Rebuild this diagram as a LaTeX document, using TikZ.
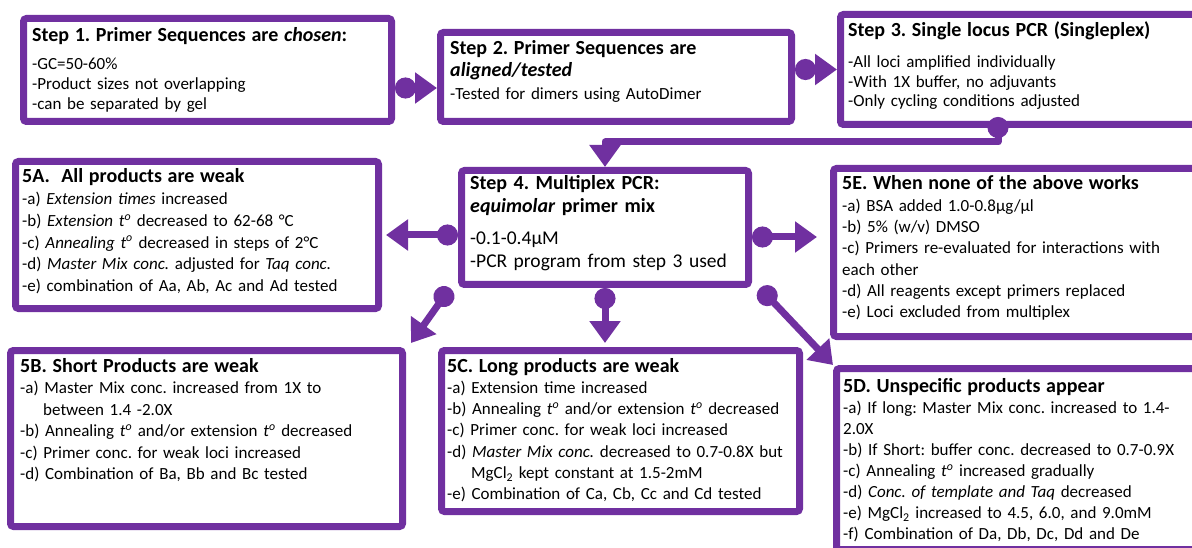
\documentclass[tikz,border=0pt]{standalone}
\usepackage{fontspec}
\setmainfont{Carlito}
\usetikzlibrary{arrows.meta, positioning, calc}

\definecolor{flowpurple}{HTML}{7030A0}
\newcommand{\ttl}[1]{{\fontsize{20}{22}\selectfont\bfseries #1}}
\newcommand{\tdeg}{\textit{t}\textsuperscript{\textit{o}}}
\frenchspacing

\begin{document}
\begin{tikzpicture}[
    x=1pt, y=-1pt,
    stepbox/.style={rectangle, draw=flowpurple, line width=7pt, outer sep=3.5pt, rounded corners=3pt, fill=white, anchor=north west, inner sep=0pt},
    boxtext/.style={anchor=base west, inner sep=0pt, align=left, text width=355pt, font=\fontsize{17}{21.5}\selectfont},
    conn/.style={{Circle[length=21pt]}-{Triangle[length=22pt,width=30pt]}, line width=7pt, draw=flowpurple, line join=round},
]
\useasboundingbox (0,0) rectangle (1192,548);
\clip (0,0) rectangle (1192,548);

% top row
\node[stepbox, minimum width=368pt, minimum height=103pt] (s1) at (20,15) {};
\node[boxtext, font=\fontsize{17}{20}\selectfont] (s1t) at ([shift={(12,27)}]s1.north west)
  {\ttl{Step 1. Primer Sequences are \textit{chosen}:}\\[8pt]
   -GC=50-60\%\\
   -Product sizes not overlapping\\
   -can be separated by gel};

\node[stepbox, minimum width=351pt, minimum height=89pt] (s2) at (437,29) {};
\node[boxtext, font=\fontsize{17}{22}\selectfont] (s2t) at ([shift={(13,26)}]s2.north west)
  {\ttl{Step 2. Primer Sequences are\\\textit{aligned/tested}}\\[1pt]
   -Tested for dimers using AutoDimer};

\node[stepbox, minimum width=361pt, minimum height=110pt] (s3) at (837,11) {};
\node[boxtext, font=\fontsize{17}{19.5}\selectfont] (s3t) at ([shift={(11,26)}]s3.north west)
  {\ttl{Step 3. Single locus PCR (Singleplex)}\\[11.5pt]
   -All loci amplified individually\\
   -With 1X buffer, no adjuvants\\
   -Only cycling conditions adjusted};

% multiplex step
\node[stepbox, minimum width=287pt, minimum height=114pt] (s4) at (458,167) {};
\node[boxtext, text width=275pt, font=\fontsize{19.5}{23}\selectfont] (s4t) at ([shift={(12,23)}]s4.north west)
  {\ttl{Step 4. Multiplex PCR:\\\textit{equimolar} primer mix}\\[9pt]
   -0.1-0.4µM\\
   -PCR program from step 3 used};

% troubleshooting boxes
\node[stepbox, minimum width=363pt, minimum height=147pt] (b5a) at (12,158) {};
\node[boxtext, font=\fontsize{17}{21.7}\selectfont] (b5at) at ([shift={(10,25)}]b5a.north west)
  {\ttl{5A.\ \ All products are weak}\\
   -a) \textit{Extension times} increased\\
   -b) \textit{Extension \tdeg} decreased to 62-68 °C\\
   -c) \textit{Annealing \tdeg} decreased in steps of 2°C\\
   -d) \textit{Master Mix conc.} adjusted for \textit{Taq conc.}\\
   -e) combination of Aa, Ab, Ac and Ad tested};

\node[stepbox, minimum width=368pt, minimum height=168pt] (b5e) at (830,165) {};
\node[boxtext, font=\fontsize{17}{21.3}\selectfont] (b5et) at ([shift={(12,25)}]b5e.north west)
  {\ttl{5E. When none of the above works}\\
   -a) BSA added 1.0-0.8µg/µl\\
   -b) 5\% (w/v) DMSO\\
   -c) Primers re-evaluated for interactions with\\
   each other\\
   -d) All reagents except primers replaced\\
   -e) Loci excluded from multiplex};

\node[stepbox, minimum width=392pt, minimum height=176pt] (b5b) at (7,347) {};
\node[boxtext, font=\fontsize{17}{21.5}\selectfont] (b5bt) at ([shift={(13,25)}]b5b.north west)
  {\ttl{5B. Short Products are weak}\\
   -a) Master Mix conc. increased from 1X to\\
   \hspace*{23pt}between 1.4 -2.0X\\
   -b) Annealing \tdeg{} and/or extension \tdeg{} decreased\\
   -c) Primer conc. for weak loci increased\\
   -d) Combination of Ba, Bb and Bc tested};

\node[stepbox, minimum width=358pt, minimum height=161pt] (b5c) at (438,347) {};
\node[boxtext, text width=370pt, font=\fontsize{17}{21.3}\selectfont] (b5ct) at ([shift={(9,25)}]b5c.north west)
  {\ttl{5C. Long products are weak}\\
   -a) Extension time increased\\
   -b) Annealing \tdeg{} and/or extension \tdeg{} decreased\\
   -c) Primer conc. for weak loci increased\\
   -d) \textit{Master Mix conc.} decreased to 0.7-0.8X but\\
   \hspace*{24pt}MgCl\textsubscript{2} kept constant at 1.5-2mM\\
   -e) Combination of Ca, Cb, Cc and Cd tested};

\node[stepbox, minimum width=365pt, minimum height=181pt] (b5d) at (833,365) {};
\node[boxtext, font=\fontsize{17}{21.1}\selectfont] (b5dt) at ([shift={(10,27)}]b5d.north west)
  {\ttl{5D. Unspecific products appear}\\
   -a) If long: Master Mix conc. increased to 1.4-\\
   2.0X\\
   -b) If Short: buffer conc. decreased to 0.7-0.9X\\
   -c) Annealing \tdeg{} increased gradually\\
   -d) \textit{Conc. of template and Taq} decreased\\
   -e) MgCl\textsubscript{2} increased to 4.5, 6.0, and 9.0mM\\
   -f) Combination of Da, Db, Dc, Dd and De};

% connectors
\draw[conn] ([yshift=-18pt]s1.east) -- ([yshift=-18pt]s1.east -| s2.west);
\draw[conn] (s2.east |- s3.west) -- (s3.west);
\draw[conn] ([shift={(-23,-11)}]s3.south) -- ++(0,25) -| (s4.north);

\draw[conn, shorten >=4pt] (b5a.east -| s4.west) -- (b5a.east);
\draw[conn, shorten >=13pt] ([yshift=-9.5pt]s4.east) -- ([yshift=-9.5pt]s4.east -| b5e.west);
\draw[conn] ([xshift=-8pt]s4.south west) -- ([shift={(5,-4)}]b5b.north east);
\draw[conn, shorten >=4pt] (s4.south) -- (s4.south |- b5c.north);
\draw[conn] ([xshift=8pt]s4.south east) -- (b5d.north west);

\end{tikzpicture}
\end{document}
